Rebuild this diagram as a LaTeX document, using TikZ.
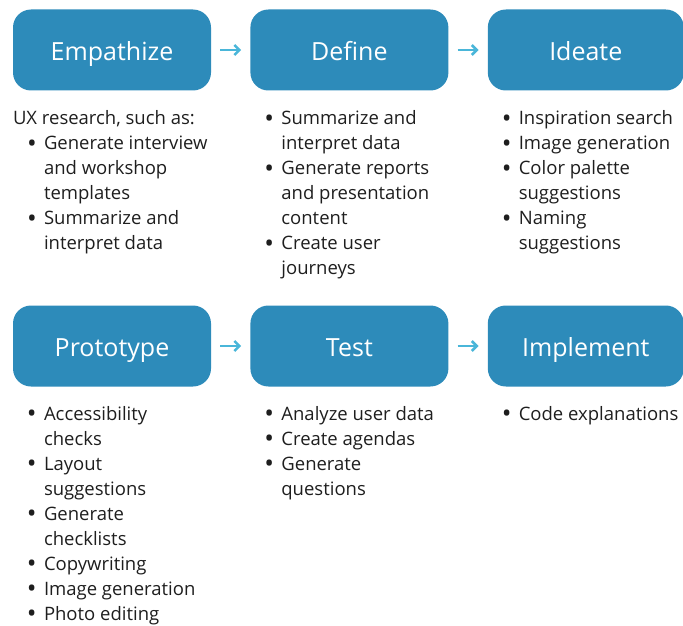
\documentclass[tikz,border=0pt]{standalone}
\usepackage{fontspec}
\setmainfont{Open Sans}
\usetikzlibrary{positioning,arrows.meta}

\definecolor{stageblue}{HTML}{2D8BBA}
\definecolor{arrowblue}{HTML}{4AB6D9}
\definecolor{textgray}{HTML}{1E1E1E}

% bullet in a fixed-width column
\newcommand{\itm}{\makebox[17pt][l]{\raisebox{-2.4pt}{\scalebox{1.4}{\textbullet}}} &}

\begin{document}
\begin{tikzpicture}[x=1pt, y=1pt,
    stage/.style={fill=stageblue, rounded corners=18pt, minimum width=198pt, minimum height=81pt,
                  text=white, font=\fontsize{25}{30}\selectfont, inner sep=0pt,
                  text height=22pt, text depth=2pt},
    flow/.style={-{Straight Barb[length=5pt,width=10pt]}, line width=2.6pt, arrowblue, shorten >=9pt, shorten <=9pt},
    list/.style={anchor=north west, inner sep=0pt, text=textgray, font=\fontsize{18.5}{25}\selectfont, align=left}]

  \useasboundingbox (0,0) rectangle (683,-626);

  % ---------- top row ----------
  \node[stage] (emp) at (112,-50) {Empathize};
  \node[stage, right=39pt of emp] (def) {Define};
  \node[stage, right=39pt of def, minimum width=196pt] (ide) {Ideate};

  % ---------- bottom row ----------
  \node[stage] (pro) at (112,-346) {Prototype};
  \node[stage, right=39pt of pro] (tes) {Test};
  \node[stage, right=39pt of tes, minimum width=196pt] (imp) {Implement};

  % ---------- arrows ----------
  \draw[flow] (emp) -- (def);
  \draw[flow] (def) -- (ide);
  \draw[flow] (pro) -- (tes);
  \draw[flow] (tes) -- (imp);

  % ---------- lists under each stage ----------
  \node[list] (empL) at ([yshift=-16.5pt]emp.south west) {%
    \begin{tabular}{@{}l@{}l@{}}
      \multicolumn{2}{@{}l@{}}{UX research, such as:}\\
      \multicolumn{2}{@{}l@{}}{\hspace{14pt}\begin{tabular}{@{}l@{}l@{}}
        \itm Generate interview\\
             & and workshop\\
             & templates\\
        \itm Summarize and\\
             & interpret data
      \end{tabular}}
    \end{tabular}};

  \node[list] (defL) at ([xshift=14pt,yshift=-16.5pt]def.south west) {%
    \begin{tabular}{@{}l@{}l@{}}
      \itm Summarize and\\
           & interpret data\\
      \itm Generate reports\\
           & and presentation\\
           & content\\
      \itm Create user\\
           & journeys
    \end{tabular}};

  \node[list] (ideL) at ([xshift=14pt,yshift=-16.5pt]ide.south west) {%
    \begin{tabular}{@{}l@{}l@{}}
      \itm Inspiration search\\
      \itm Image generation\\
      \itm Color palette\\
           & suggestions\\
      \itm Naming\\
           & suggestions
    \end{tabular}};

  \node[list] (proL) at ([xshift=14pt,yshift=-16pt]pro.south west) {%
    \begin{tabular}{@{}l@{}l@{}}
      \itm Accessibility\\
           & checks\\
      \itm Layout\\
           & suggestions\\
      \itm Generate\\
           & checklists\\
      \itm Copywriting\\
      \itm Image generation\\
      \itm Photo editing
    \end{tabular}};

  \node[list] (tesL) at ([xshift=14pt,yshift=-16pt]tes.south west) {%
    \begin{tabular}{@{}l@{}l@{}}
      \itm Analyze user data\\
      \itm Create agendas\\
      \itm Generate\\
           & questions
    \end{tabular}};

  \node[list] (impL) at ([xshift=14pt,yshift=-16pt]imp.south west) {%
    \begin{tabular}{@{}l@{}l@{}}
      \itm Code explanations
    \end{tabular}};

\end{tikzpicture}
\end{document}
